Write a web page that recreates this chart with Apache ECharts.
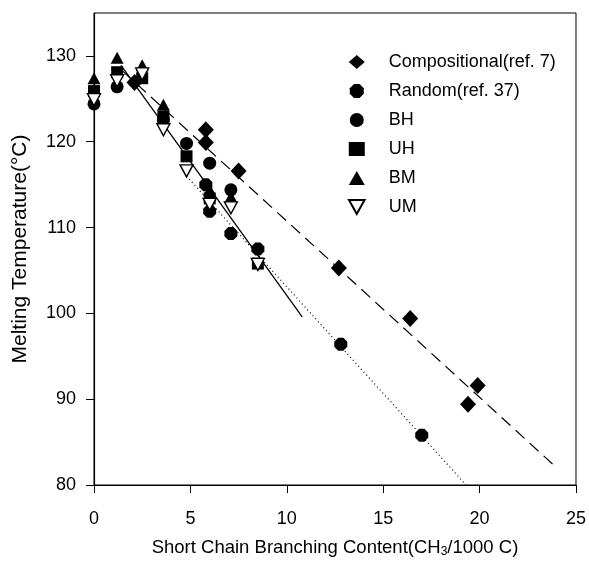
<!DOCTYPE html>
<html>
<head>
<meta charset="utf-8">
<script src="https://cdn.jsdelivr.net/npm/echarts@6/dist/echarts.min.js"></script>
<style>html,body{margin:0;padding:0;background:#fff;}#c{width:589px;height:563px;}</style>
</head>
<body>
<div id="c"></div>
<script>
// ---- data ----
var seriesNames = ['Compositional(ref. 7)', 'Random(ref. 37)', 'BH', 'UH', 'BM', 'UM'];
var compositional = [[2.1,126.9],[5.8,121.4],[5.8,119.9],[7.5,116.6],[12.7,105.3],[16.4,99.4],[19.9,91.6],[19.4,89.4]];
var random37 = [[5.8,115.0],[6.0,111.9],[7.1,109.3],[8.5,107.5],[12.8,96.4],[17.0,85.8]];
var bh = [[0,124.4],[1.2,126.4],[3.6,122.6],[4.8,119.8],[6.0,117.5],[7.1,114.4]];
var uh = [[0,125.9],[1.2,128.1],[2.5,127.4],[3.6,122.9],[4.8,118.3],[6.0,113.4],[8.5,105.8]];
var bm = [[0,127.4],[1.2,129.8],[2.5,128.9],[3.6,124.3],[6.0,114.4],[7.1,113.6]];
var um = [[0,124.9],[1.2,127.1],[2.5,127.9],[3.6,121.4],[4.8,116.6],[6.0,112.7],[7.1,112.3],[8.5,105.7]];
var compFit = [[1.5,128.2],[24,82.0]];
var solidFit = [[1.4,128.9],[10.8,99.6]];
var dottedFit = [[4.8,116.0],[19.3,80.0]];
var xTicks = [0,5,10,15,20,25];
var yTicks = [80,90,100,110,120,130];

var FONT = 'Liberation Sans, Arial, sans-serif';
var hexPath = 'path://M3,0 L7,0 L10,3 L10,7 L7,10 L3,10 L0,7 L0,3 Z';

var chart = echarts.init(document.getElementById('c'));
function sc(name, data, symbol, size, fill, border) {
  return {
    name: name, type: 'scatter', data: data, symbol: symbol, symbolSize: size,
    itemStyle: { color: fill, borderColor: border || fill, borderWidth: border ? 1.4 : 0, opacity: 1 },
    z: 5
  };
}
function ln(data, type) {
  return {
    type: 'line', data: data, symbol: 'none', silent: true,
    lineStyle: { color: '#000', width: type === 'solid' ? 1.3 : 1.2, type: type },
    z: 3
  };
}
chart.setOption({
  animation: false,
  backgroundColor: '#fff',
  textStyle: { fontFamily: FONT },
  grid: { left: 94, right: 12, top: 13, bottom: 72, show: true, borderColor: '#000', borderWidth: 1 },
  legend: {
    orient: 'vertical', left: 343, top: 48, itemWidth: 16, itemHeight: 14, itemGap: 11,
    data: seriesNames,
    textStyle: { fontSize: 18, lineHeight: 18, color: '#000', fontFamily: FONT, padding: [0, 0, 0, 19] }
  },
  xAxis: {
    type: 'value', min: 0, max: 25, interval: 5,
    name: '{a|Short Chain Branching Content(CH}{s|3}{a|/1000 C)}',
    nameLocation: 'middle', nameGap: 52,
    nameTextStyle: { rich: {
      a: { fontSize: 18.5, color: '#000', fontFamily: FONT },
      s: { fontSize: 12, color: '#000', fontFamily: FONT, verticalAlign: 'bottom', padding: [9, 0, 0, 0] }
    } },
    axisLine: { lineStyle: { color: '#000', width: 1.2 } },
    axisTick: { show: true, inside: false, length: 8, lineStyle: { color: '#000' }, customValues: xTicks },
    axisLabel: { fontSize: 18, color: '#000', margin: 25, customValues: xTicks },
    splitLine: { show: false }
  },
  yAxis: {
    type: 'value', min: 80, max: 135, interval: 10,
    name: 'Melting Temperature(\u00B0C)', nameLocation: 'middle', nameGap: 63,
    nameTextStyle: { fontSize: 21, color: '#000', fontFamily: FONT },
    axisLine: { lineStyle: { color: '#000', width: 1.2 } },
    axisTick: { show: true, inside: false, length: 8, lineStyle: { color: '#000' }, customValues: yTicks },
    axisLabel: { fontSize: 18, color: '#000', margin: 18, customValues: yTicks },
    splitLine: { show: false }
  },
  series: [
    ln(compFit, [12, 7]),
    ln(solidFit, 'solid'),
    ln(dottedFit, [1, 3]),
    sc(seriesNames[0], compositional, 'diamond', [16, 17], '#000'),
    sc(seriesNames[1], random37, hexPath, 13, '#000'),
    sc(seriesNames[2], bh, 'circle', 13, '#000'),
    sc(seriesNames[3], uh, 'rect', 12, '#000'),
    sc(seriesNames[4], bm, 'triangle', [13, 12], '#000'),
    sc(seriesNames[5], um, 'path://M0,0 L10,0 L5,9 Z', [13, 12], '#fff', '#000')
  ]
});
</script>
</body>
</html>
